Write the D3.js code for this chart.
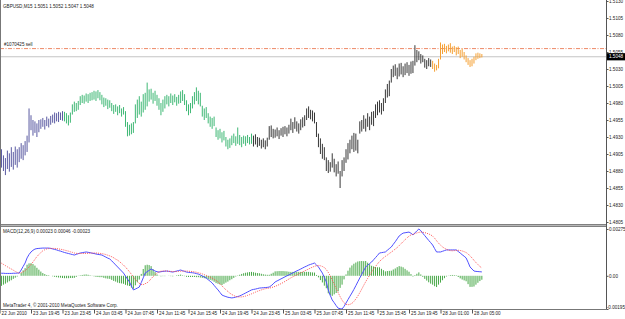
<!DOCTYPE html>
<html><head><meta charset="utf-8">
<script src="https://cdn.jsdelivr.net/npm/d3@7/dist/d3.min.js"></script>
<style>
html,body{margin:0;padding:0;background:#fff;}
svg{display:block;}
text{font-family:"Liberation Sans",Arial,sans-serif;font-size:4.6px;fill:#222;}
</style></head><body>
<svg id="c" width="625" height="319"></svg>
<script>
// ---------- data ----------
const symbolTitle = "GBPUSD,M15  1.5051 1.5052 1.5047 1.5048";
const orderLabel = "#1070425 sell";
const macdTitle = "MACD(12,26,9) 0.00023 0.00046 -0.00023";
const copyright = "MetaTrader 4, \u00A9 2001-2010 MetaQuotes Software Corp.";

const barHigh = [
1.4905,1.4912,1.4903,1.4899,1.4910,1.4906,1.4915,1.4908,1.4916,1.4912,
1.4915,1.4921,1.4918,1.4924,1.4932,1.4972,1.4962,1.4955,1.4953,1.4950,
1.4955,1.4956,1.4958,1.4955,1.4960,1.4957,1.4961,1.4963,1.4966,1.4965,
1.4967,1.4966,1.4968,1.4967,1.4965,1.4962,1.4966,1.4978,1.4982,1.4980,
1.4983,1.4990,1.4992,1.4991,1.4994,1.4993,1.4995,1.4996,1.4998,1.4997,
1.4999,1.4996,1.4992,1.4988,1.4987,1.4985,1.4984,1.4980,1.4977,1.4978,
1.4975,1.4977,1.4972,1.4974,1.4968,1.4952,1.4948,1.4950,1.4952,1.4978,
1.4985,1.4990,1.4982,1.4993,1.4995,1.5010,1.5000,1.5001,1.4995,1.4998,
1.4992,1.4987,1.4980,1.4985,1.4990,1.4992,1.4990,1.4994,1.4991,1.4993,
1.4989,1.4992,1.4997,1.4999,1.4993,1.4984,1.4978,1.4980,1.4990,1.4996,
1.5003,1.4998,1.4995,1.4976,1.4972,1.4974,1.4965,1.4960,1.4958,1.4960,
1.4944,1.4940,1.4942,1.4937,1.4939,1.4930,1.4926,1.4928,1.4932,1.4935,
1.4931,1.4944,1.4933,1.4930,1.4932,1.4931,1.4933,1.4930,1.4935,1.4932,
1.4934,1.4930,1.4929,1.4926,1.4928,1.4925,1.4929,1.4946,1.4947,1.4942,
1.4941,1.4944,1.4940,1.4943,1.4945,1.4946,1.4944,1.4948,1.4957,1.4952,
1.4959,1.4953,1.4950,1.4956,1.4959,1.4962,1.4972,1.4975,1.4970,1.4969,
1.4966,1.4952,1.4935,1.4928,1.4920,1.4915,1.4900,1.4896,1.4893,1.4906,
1.4898,1.4890,1.4894,1.4880,1.4896,1.4900,1.4912,1.4921,1.4926,1.4932,
1.4936,1.4935,1.4926,1.4953,1.4955,1.4962,1.4957,1.4965,1.4960,1.4967,
1.4968,1.4978,1.4982,1.4984,1.4980,1.4987,1.5000,1.5008,1.5013,1.5030,
1.5035,1.5037,1.5032,1.5038,1.5039,1.5034,1.5038,1.5040,1.5036,1.5041,
1.5042,1.5065,1.5058,1.5056,1.5052,1.5050,1.5045,1.5043,1.5046,1.5044,
1.5042,1.5038,1.5036,1.5045,1.5069,1.5066,1.5067,1.5064,1.5066,1.5068,
1.5063,1.5064,1.5062,1.5063,1.5058,1.5060,1.5055,1.5050,1.5046,1.5043,
1.5045,1.5048,1.5053,1.5054,1.5053,1.5052];

const barLow = [
1.4878,1.4885,1.4880,1.4874,1.4883,1.4879,1.4886,1.4882,1.4889,1.4885,
1.4893,1.4898,1.4896,1.4903,1.4908,1.4922,1.4940,1.4932,1.4936,1.4930,
1.4937,1.4942,1.4945,1.4941,1.4946,1.4944,1.4948,1.4951,1.4950,1.4953,
1.4952,1.4955,1.4954,1.4953,1.4950,1.4947,1.4951,1.4963,1.4967,1.4968,
1.4970,1.4977,1.4980,1.4979,1.4982,1.4980,1.4983,1.4984,1.4985,1.4983,
1.4987,1.4984,1.4978,1.4974,1.4976,1.4971,1.4973,1.4968,1.4964,1.4967,
1.4962,1.4965,1.4960,1.4963,1.4945,1.4931,1.4932,1.4934,1.4936,1.4950,
1.4958,1.4963,1.4960,1.4966,1.4970,1.4975,1.4982,1.4985,1.4979,1.4983,
1.4976,1.4970,1.4962,1.4967,1.4972,1.4978,1.4975,1.4980,1.4977,1.4981,
1.4976,1.4979,1.4980,1.4983,1.4977,1.4968,1.4962,1.4965,1.4972,1.4978,
1.4983,1.4978,1.4975,1.4960,1.4955,1.4958,1.4950,1.4945,1.4942,1.4946,
1.4930,1.4926,1.4928,1.4922,1.4925,1.4916,1.4912,1.4914,1.4918,1.4921,
1.4917,1.4920,1.4918,1.4915,1.4920,1.4917,1.4921,1.4919,1.4920,1.4916,
1.4919,1.4915,1.4917,1.4913,1.4915,1.4912,1.4916,1.4926,1.4930,1.4928,
1.4929,1.4931,1.4927,1.4932,1.4930,1.4934,1.4931,1.4935,1.4940,1.4936,
1.4942,1.4938,1.4935,1.4940,1.4944,1.4946,1.4955,1.4958,1.4956,1.4953,
1.4950,1.4930,1.4915,1.4905,1.4898,1.4896,1.4880,1.4877,1.4879,1.4885,
1.4878,1.4872,1.4876,1.4855,1.4872,1.4880,1.4892,1.4897,1.4906,1.4912,
1.4908,1.4910,1.4906,1.4935,1.4938,1.4942,1.4938,1.4945,1.4940,1.4948,
1.4946,1.4958,1.4962,1.4966,1.4963,1.4968,1.4980,1.4988,1.4990,1.5010,
1.5018,1.5020,1.5015,1.5019,1.5022,1.5018,1.5021,1.5024,1.5020,1.5023,
1.5024,1.5035,1.5040,1.5043,1.5038,1.5040,1.5032,1.5030,1.5034,1.5033,
1.5030,1.5026,1.5028,1.5031,1.5044,1.5052,1.5055,1.5053,1.5056,1.5054,
1.5052,1.5055,1.5050,1.5052,1.5046,1.5048,1.5044,1.5040,1.5036,1.5033,
1.5034,1.5038,1.5043,1.5045,1.5046,1.5047];

// first bar index of each trading day shown (23, 24, 25, 28 Jun)
const dayStartIndex = [0, 33, 129, 220];

const orderPrice = 1.5060;
const bidPrice = 1.5048;
const priceTicks = [1.5130,1.5105,1.5080,1.5055,1.5030,1.5005,1.4980,1.4955,1.4930,1.4905,1.4880,1.4855,1.4830,1.4805];

// MACD values in units of 0.00001
const macdMainPts = [
16,15,15,14,14,14,14,15,15,16,
16,34,55,75,105,125,140,150,157,160,
161,162,163,163,163,163,161,158,155,152,
148,145,141,137,134,131,128,125,122,126,
130,134,136,138,140,138,136,133,131,128,
126,124,122,116,110,104,99,88,76,64,
52,40,28,16,-2,-19,-36,-60,-83,-78,
-72,-66,-40,-12,16,24,32,40,34,28,
24,22,24,26,27,28,26,24,22,25,
28,31,34,30,26,22,20,19,18,16,
13,10,5,-1,-7,-13,-23,-32,-42,-56,
-70,-83,-98,-113,-118,-122,-126,-128,-130,-128,
-125,-122,-118,-113,-107,-101,-95,-89,-83,-80,
-78,-75,-72,-71,-70,-69,-68,-66,-58,-48,
-36,-30,-24,-18,-12,-6,0,5,11,17,
23,29,34,40,46,52,57,63,67,71,
75,64,52,34,16,-10,-36,-83,-115,-142,
-158,-175,-190,-193,-195,-180,-160,-140,-120,-101,
-80,-58,-35,-13,9,30,52,62,72,81,
94,107,120,134,136,138,140,150,160,169,
185,200,217,234,243,251,253,255,257,250,
240,252,264,275,265,250,236,222,208,195,
181,160,140,140,140,144,148,152,152,152,
152,152,152,143,134,124,115,105,80,52,
40,28,26,25,24,23];

const macdSignalPts = [
81,74,67,60,53,46,40,33,26,20,
16,18,23,30,40,52,66,81,97,113,
125,137,147,153,158,160,161,161,161,160,
158,156,154,151,148,145,141,138,134,132,
131,131,131,131,132,132,133,134,134,134,
133,132,130,128,125,121,117,112,106,98,
92,83,73,63,51,38,24,9,-7,-22,
-34,-44,-51,-52,-46,-41,-31,-17,-5,6,
16,23,27,28,29,28,27,26,25,25,
25,26,27,27,28,28,27,26,25,23,
21,18,15,11,7,3,-3,-8,-14,-21,
-27,-36,-47,-59,-71,-82,-92,-102,-110,-116,
-121,-124,-124,-124,-122,-119,-115,-111,-106,-101,
-96,-91,-87,-83,-79,-76,-74,-72,-70,-66,
-62,-57,-52,-46,-40,-33,-26,-19,-12,-6,
0,5,11,17,23,29,34,40,46,51,
56,59,61,59,55,48,37,20,0,-24,
-49,-74,-99,-122,-143,-159,-168,-170,-168,-162,
-151,-136,-119,-99,-78,-56,-35,-15,4,22,
39,55,70,84,95,105,114,122,131,139,
148,157,166,177,189,201,212,223,233,240,
244,248,252,255,257,256,254,250,246,241,
233,221,206,192,180,170,162,156,151,148,
147,148,149,150,149,146,142,137,129,117,
105,91,78,66,55,46];

const macdTickValues = [0.00275, 0, -0.00195];
const macdTickLabels = ["0.00275", "0.00", "-0.00195"];

const timeTickIndex = [0,16,32,48,64,80,96,112,128,144,160,176,192,208,224,240];
const timeTickLabels = ["22 Jun 2010","23 Jun 19:45","23 Jun 23:45","24 Jun 03:45","24 Jun 07:45",
  "24 Jun 11:45","24 Jun 15:45","24 Jun 19:45","24 Jun 23:45","25 Jun 03:45","25 Jun 07:45",
  "25 Jun 11:45","25 Jun 15:45","25 Jun 19:45","28 Jun 01:00","28 Jun 05:00"];

// ---------- styles ----------
const dayColors = ["#5a5aa2", "#3fb875", "#383838", "#f5a033"];
const W = 625, H = 319;
const axisX = 606.5;
const mainTop = 0, mainBottom = 224;
const macdTop = 227, macdBottom = 309.5;

const svg = d3.select("#c");

// scales
const x = d3.scaleLinear().domain([0, 16]).range([-0.5, 31]);
const yP = d3.scaleLinear().domain([1.4805, 1.5130]).range([222, 1]);
const yM = d3.scaleLinear().domain([d3.min(macdMainPts) / 1e5, d3.max(macdMainPts) / 1e5]).range([309, 229]);

const defs = svg.append("defs");
defs.append("clipPath").attr("id", "clipMain").append("rect")
  .attr("x", 1).attr("y", mainTop).attr("width", axisX - 1).attr("height", mainBottom - mainTop);
defs.append("clipPath").attr("id", "clipMacd").append("rect")
  .attr("x", 1).attr("y", macdTop).attr("width", axisX - 1).attr("height", macdBottom - macdTop);

// ---------- main panel ----------
const gMain = svg.append("g").attr("clip-path", "url(#clipMain)");

gMain.append("line").attr("x1", 0).attr("x2", axisX).attr("y1", yP(bidPrice)).attr("y2", yP(bidPrice))
  .attr("stroke", "#c4c4c4").attr("stroke-width", 1);
gMain.append("line").attr("x1", 0).attr("x2", axisX).attr("y1", yP(orderPrice)).attr("y2", yP(orderPrice))
  .attr("stroke", "#ee8866").attr("stroke-width", 1).attr("stroke-dasharray", "4,1.5,1,1.5");

const dayOf = i => d3.bisectRight(dayStartIndex, i) - 1;
gMain.selectAll("line.bar").data(d3.range(barHigh.length)).join("line")
  .attr("class", "bar")
  .attr("x1", i => x(i)).attr("x2", i => x(i))
  .attr("y1", i => yP(barHigh[i])).attr("y2", i => yP(barLow[i]))
  .attr("stroke", i => dayColors[dayOf(i)]).attr("stroke-width", 1);

svg.append("text").attr("x", 3).attr("y", 7.6).text(symbolTitle);
svg.append("text").attr("x", 4).attr("y", 46.3).text(orderLabel);

const pAxis = svg.append("g").attr("transform", `translate(${axisX},0)`)
  .call(d3.axisRight(yP).tickValues(priceTicks).tickFormat(d3.format(".4f")).tickSize(2).tickSizeOuter(0).tickPadding(0.5));
pAxis.select(".domain").remove();
pAxis.selectAll(".tick line").attr("stroke", "#555");
pAxis.selectAll(".tick text").attr("dy", "0.35em");

svg.append("rect").attr("x", axisX).attr("y", yP(bidPrice) - 3.6).attr("width", W - axisX).attr("height", 7.2).attr("fill", "#000");
svg.append("text").attr("x", axisX + 2.5).attr("y", yP(bidPrice)).attr("dy", "0.35em").style("fill", "#fff").text(d3.format(".4f")(bidPrice));

// ---------- separator ----------
svg.append("rect").attr("x", 0).attr("y", 224).attr("width", axisX).attr("height", 3).attr("fill", "#b8b8b8");
svg.append("line").attr("x1", 0).attr("x2", axisX).attr("y1", 224.5).attr("y2", 224.5).attr("stroke", "#808080");
svg.append("line").attr("x1", 0).attr("x2", axisX).attr("y1", 226.5).attr("y2", 226.5).attr("stroke", "#808080");

// ---------- MACD panel ----------
const gMacd = svg.append("g").attr("clip-path", "url(#clipMacd)");
const idx = d3.range(macdMainPts.length);
gMacd.selectAll("line.hist").data(idx).join("line")
  .attr("class", "hist")
  .attr("x1", i => x(i)).attr("x2", i => x(i))
  .attr("y1", yM(0)).attr("y2", i => yM((macdMainPts[i] - macdSignalPts[i]) / 1e5))
  .attr("stroke", "#48a848").attr("stroke-width", 1);

gMacd.append("path").datum(idx)
  .attr("d", d3.line().x(i => x(i)).y(i => yM(macdMainPts[i] / 1e5)))
  .attr("fill", "none").attr("stroke", "#5050ff").attr("stroke-width", 1);
gMacd.append("path").datum(idx)
  .attr("d", d3.line().x(i => x(i)).y(i => yM(macdSignalPts[i] / 1e5)))
  .attr("fill", "none").attr("stroke", "#ff5050").attr("stroke-width", 1).attr("stroke-dasharray", "1,1.2");

svg.append("text").attr("x", 3).attr("y", 233.4).text(macdTitle);
svg.append("text").attr("x", 3).attr("y", 307.2).text(copyright);

const mAxis = svg.append("g").attr("transform", `translate(${axisX},0)`)
  .call(d3.axisRight(yM).tickValues(macdTickValues).tickFormat((d, k) => macdTickLabels[k]).tickSize(2).tickSizeOuter(0).tickPadding(0.5));
mAxis.select(".domain").remove();
mAxis.selectAll(".tick line").attr("stroke", "#555");
mAxis.selectAll(".tick text").attr("dy", "0.35em");
// keep the long bottom label inside the window
mAxis.selectAll(".tick text").filter((d, k) => k === 2).attr("dy", "-0.1em").attr("x", 0.3);

// ---------- frame ----------
svg.append("line").attr("x1", 0.5).attr("x2", 0.5).attr("y1", 0).attr("y2", 309.5).attr("stroke", "#777");
svg.append("line").attr("x1", axisX).attr("x2", axisX).attr("y1", 0).attr("y2", 309.5).attr("stroke", "#555");

const tAxis = svg.append("g").attr("transform", "translate(0,309.5)")
  .call(d3.axisBottom(x).tickValues(timeTickIndex).tickFormat((d, k) => timeTickLabels[k]).tickSize(4).tickSizeOuter(0));
tAxis.select(".domain").attr("d", `M0,0H${axisX}`).attr("stroke", "#777");
tAxis.selectAll(".tick line").attr("stroke", "#555");
tAxis.selectAll(".tick text").attr("text-anchor", "start").attr("x", 1.6).attr("y", 5.2).attr("dy", null);
</script>
</body></html>
